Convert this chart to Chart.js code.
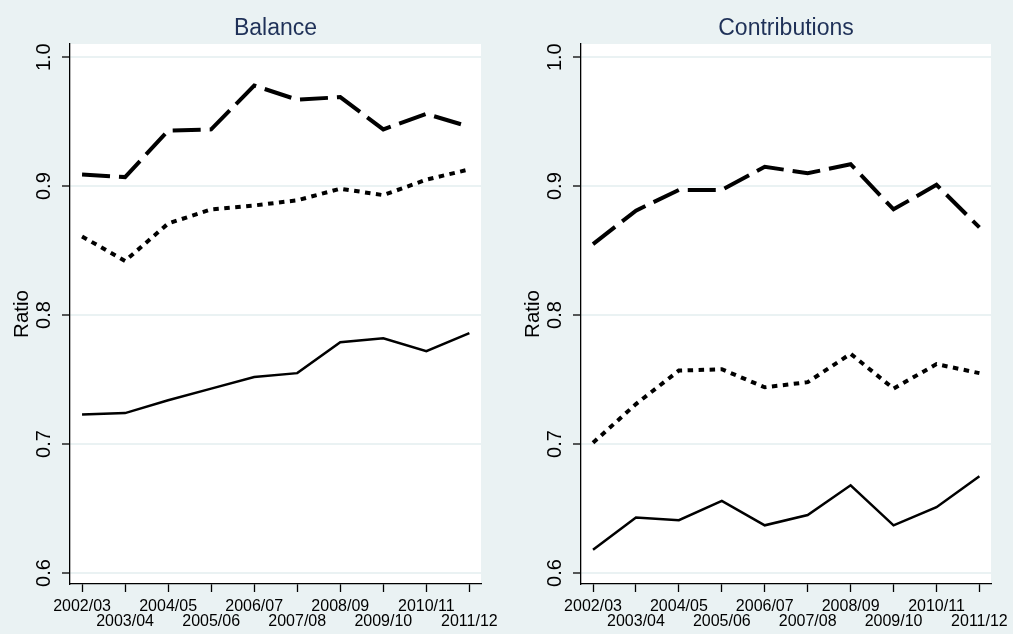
<!DOCTYPE html>
<html>
<head>
<meta charset="utf-8">
<script src="https://cdn.jsdelivr.net/npm/chart.js@4.4.1/dist/chart.umd.min.js"></script>
<style>
  html, body { margin: 0; padding: 0; background: rgb(234,242,243); }
  #wrap { position: relative; width: 1013px; height: 634px; overflow: hidden; }
  canvas { position: absolute; top: 0; }
</style>
</head>
<body>
<div id="wrap">
  <canvas id="balance" width="511" height="634" style="left:0px"></canvas>
  <canvas id="contrib" width="502" height="634" style="left:511px"></canvas>
</div>
<script>
// Financial years on the horizontal axis
const years = ['2002/03', '2003/04', '2004/05', '2005/06', '2006/07',
               '2007/08', '2008/09', '2009/10', '2010/11', '2011/12'];

// Ratio ticks on the vertical axis
const ratioTicks = [0.6, 0.7, 0.8, 0.9, 1.0];

// Balance panel
const balanceHigh = [0.909, 0.907, 0.943, 0.944, 0.978, 0.967, 0.969, 0.944, 0.956, 0.946];
const balanceMid  = [0.861, 0.842, 0.871, 0.882, 0.885, 0.889, 0.898, 0.893, 0.905, 0.913];
const balanceLow  = [0.723, 0.724, 0.734, 0.743, 0.752, 0.755, 0.779, 0.782, 0.772, 0.786];

// Contributions panel
const contribHigh = [0.855, 0.881, 0.897, 0.897, 0.915, 0.910, 0.917, 0.882, 0.901, 0.868];
const contribMid  = [0.701, 0.731, 0.757, 0.758, 0.744, 0.748, 0.770, 0.743, 0.762, 0.755];
const contribLow  = [0.618, 0.643, 0.641, 0.656, 0.637, 0.645, 0.668, 0.637, 0.651, 0.675];

const FONT = "'Liberation Sans', Arial, Helvetica, sans-serif";
const BG = 'rgb(234,242,243)';

// Fill the plot region white behind the lines
const plotRegion = {
  id: 'plotRegion',
  beforeDraw(chart) {
    const a = chart.chartArea;
    const ctx = chart.ctx;
    ctx.save();
    ctx.fillStyle = '#ffffff';
    ctx.fillRect(a.left, a.top, a.right - a.left, a.bottom - a.top);
    ctx.restore();
  }
};

function toPoints(values) {
  return values.map((v, i) => ({ x: i, y: v }));
}

function makeChart(id, titleText, high, mid, low, padRight) {
  return new Chart(document.getElementById(id), {
    type: 'line',
    data: {
      datasets: [
        { label: 'High', data: toPoints(high), borderColor: '#000', borderWidth: 4,
          borderDash: [28, 9], borderCapStyle: 'butt' },
        { label: 'Middle', data: toPoints(mid), borderColor: '#000', borderWidth: 4,
          borderDash: [5.5, 5.5], borderCapStyle: 'butt' },
        { label: 'Low', data: toPoints(low), borderColor: '#000', borderWidth: 2.5 }
      ]
    },
    options: {
      responsive: false,
      animation: false,
      devicePixelRatio: 1,
      layout: { padding: { left: 0, right: padRight, top: 0, bottom: 0 } },
      elements: { point: { radius: 0 }, line: { tension: 0, fill: false } },
      plugins: {
        legend: { display: false },
        tooltip: { enabled: false },
        title: {
          display: true,
          text: titleText,
          fullSize: false,
          color: '#1f3158',
          font: { family: FONT, size: 23, weight: 'normal', lineHeight: 1.2 },
          padding: { top: 14.5, bottom: 1.9 }
        }
      },
      scales: {
        x: {
          type: 'linear',
          min: -0.28,
          max: 9.27,
          afterBuildTicks(scale) {
            scale.ticks = years.map((_, i) => ({ value: i }));
          },
          afterFit(scale) {
            scale.height = 50;
            scale.paddingLeft = 0; scale.paddingRight = 0;
          },
          border: { display: true, color: '#000', width: 1.3 },
          grid: { drawOnChartArea: false, drawTicks: true, tickLength: 8,
                  tickColor: '#000', tickWidth: 1.3 },
          ticks: {
            autoSkip: false, maxRotation: 0, minRotation: 0, padding: 6.5,
            color: '#000',
            font: { family: FONT, size: 16, lineHeight: 0.97 },
            callback(value) {
              const i = Math.round(value);
              return i % 2 === 0 ? [years[i], ''] : ['', years[i]];
            }
          }
        },
        y: {
          type: 'linear',
          min: 0.5915,
          max: 1.0102,
          afterBuildTicks(scale) {
            scale.ticks = ratioTicks.map(v => ({ value: v }));
          },
          afterFit(scale) {
            scale.width = 70;
            scale.paddingTop = 0; scale.paddingBottom = 0;
          },
          border: { display: true, color: '#000', width: 1.3 },
          grid: { color: BG, lineWidth: 2, drawTicks: true, tickLength: 8,
                  tickColor: '#000', tickWidth: 1.3 },
          title: {
            display: true, text: 'Ratio', color: '#000',
            font: { family: FONT, size: 20.5, lineHeight: 1.2 },
            padding: { top: 10, bottom: 0 }
          },
          ticks: {
            minRotation: 90, maxRotation: 90, crossAlign: 'center', padding: 3.5,
            color: '#000',
            font: { family: FONT, size: 20 },
            callback: v => v.toFixed(1)
          }
        }
      }
    },
    plugins: [plotRegion]
  });
}

makeChart('balance', 'Balance', balanceHigh, balanceMid, balanceLow, 30);
makeChart('contrib', 'Contributions', contribHigh, contribMid, contribLow, 22);
</script>
</body>
</html>
